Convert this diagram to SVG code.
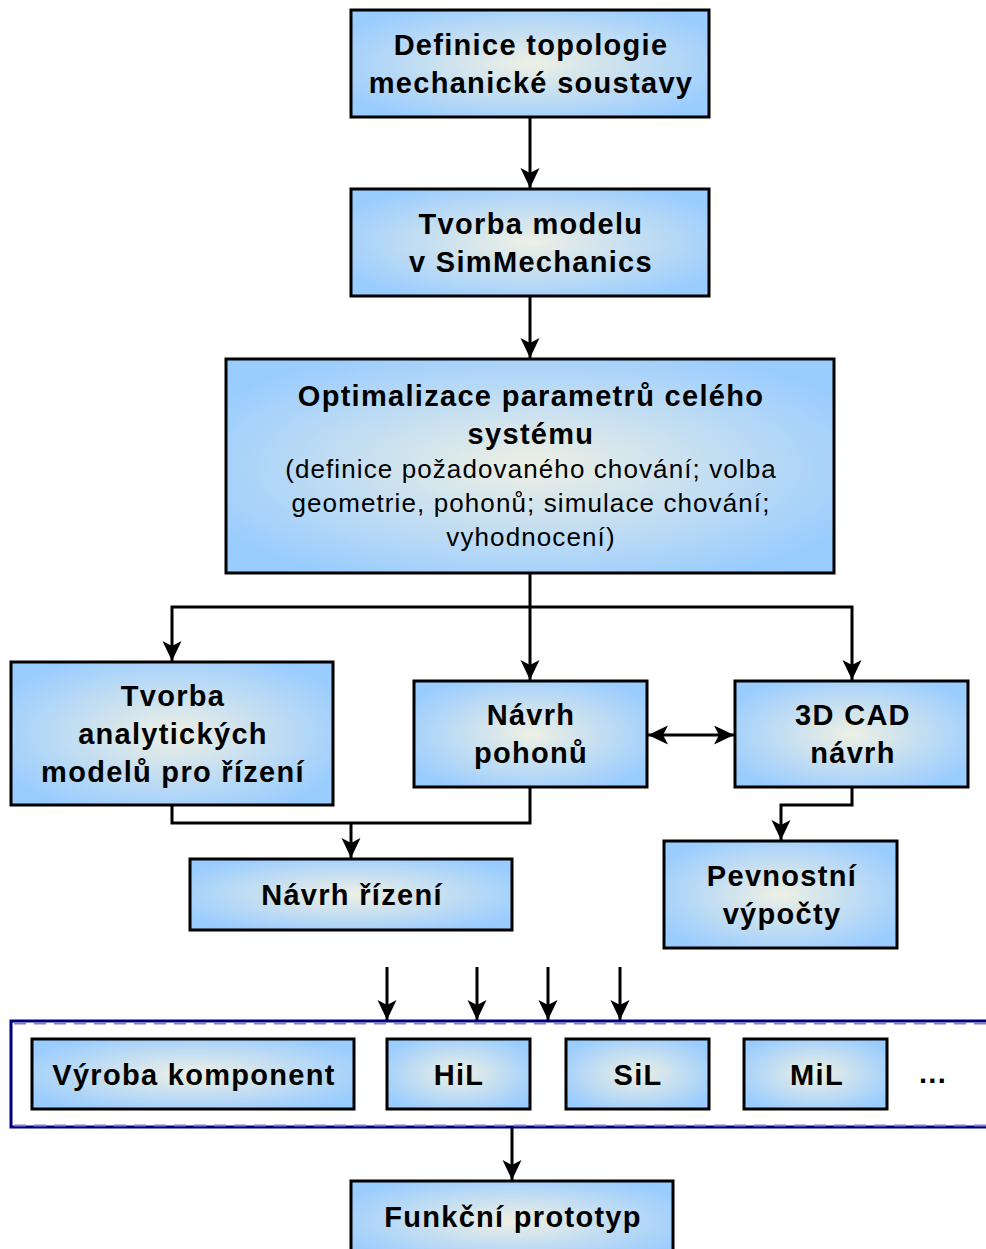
<svg xmlns="http://www.w3.org/2000/svg" width="986" height="1249" viewBox="0 0 986 1249">
<defs>
<radialGradient id="g" cx="0.5" cy="0.5" r="0.6">
<stop offset="0" stop-color="#eef0e4"/>
<stop offset="1" stop-color="#99ccff"/>
</radialGradient>
<marker id="ah" markerUnits="userSpaceOnUse" markerWidth="22" markerHeight="20" refX="20" refY="9.5" orient="auto-start-reverse">
<path d="M0,0 L20,9.5 L0,19 L5,9.5 Z" fill="#000"/>
</marker>
<style>
.box{fill:url(#g);stroke:#000;stroke-width:3}
.t{font-family:"Liberation Sans",Arial,sans-serif;font-weight:bold;font-size:29px;letter-spacing:1.3px;text-anchor:middle;fill:#000}
.s{font-family:"Liberation Sans",Arial,sans-serif;font-size:26px;letter-spacing:1.1px;text-anchor:middle;fill:#000}
.c{fill:none;stroke:#000;stroke-width:3}
</style>
</defs>
<g id="frame">
<path d="M986,1021 H11 V1127 H986" fill="none" stroke="#000080" stroke-width="3"/>
<path d="M986,1023.5 H14 M14,1125.5 H986" fill="none" stroke="#8080d0" stroke-width="2" stroke-dasharray="12,8"/>
</g>
<g id="connectors">
<path class="c" d="M530,117 V188" marker-end="url(#ah)"/>
<path class="c" d="M530,296 V358" marker-end="url(#ah)"/>
<path class="c" d="M530,573 V607"/>
<path class="c" d="M172,661 V607 H852 V680" marker-start="url(#ah)" marker-end="url(#ah)"/>
<path class="c" d="M530,607 V680" marker-end="url(#ah)"/>
<path class="c" d="M648,735 H734" marker-start="url(#ah)" marker-end="url(#ah)"/>
<path class="c" d="M172,805 V823 H530 V787"/>
<path class="c" d="M351,823 V858" marker-end="url(#ah)"/>
<path class="c" d="M852,787 V805 H781 V840" marker-end="url(#ah)"/>
<path class="c" d="M387,967 V1020" marker-end="url(#ah)"/>
<path class="c" d="M477,967 V1020" marker-end="url(#ah)"/>
<path class="c" d="M548,967 V1020" marker-end="url(#ah)"/>
<path class="c" d="M620,967 V1020" marker-end="url(#ah)"/>
<path class="c" d="M512,1128 V1180" marker-end="url(#ah)"/>
</g>
<g id="n1"><rect class="box" x="351" y="10" width="358" height="107"/>
<text class="t" x="531" y="55">Definice topologie</text><text class="t" x="531" y="93">mechanické soustavy</text></g>
<g id="n2"><rect class="box" x="351" y="189" width="358" height="107"/>
<text class="t" x="531" y="234">Tvorba modelu</text><text class="t" x="531" y="272">v SimMechanics</text></g>
<g id="n3"><rect class="box" x="226" y="359" width="608" height="214"/>
<text class="t" x="531" y="406">Optimalizace parametrů celého</text><text class="t" x="531" y="444">systému</text>
<text class="s" x="531" y="478">(definice požadovaného chování; volba</text>
<text class="s" x="531" y="512">geometrie, pohonů; simulace chování;</text>
<text class="s" x="531" y="546">vyhodnocení)</text></g>
<g id="n4"><rect class="box" x="11" y="662" width="322" height="143"/>
<text class="t" x="173" y="706">Tvorba</text><text class="t" x="173" y="744">analytických</text><text class="t" x="173" y="782">modelů pro řízení</text></g>
<g id="n5"><rect class="box" x="414" y="681" width="233" height="106"/>
<text class="t" x="531" y="725">Návrh</text><text class="t" x="531" y="763">pohonů</text></g>
<g id="n6"><rect class="box" x="735" y="681" width="233" height="106"/>
<text class="t" x="853" y="725">3D CAD</text><text class="t" x="853" y="763">návrh</text></g>
<g id="n7"><rect class="box" x="190" y="859" width="322" height="71"/>
<text class="t" x="352" y="905">Návrh řízení</text></g>
<g id="n8"><rect class="box" x="664" y="841" width="233" height="107"/>
<text class="t" x="782" y="886">Pevnostní</text><text class="t" x="782" y="924">výpočty</text></g>
<g id="n9"><rect class="box" x="32" y="1039" width="322" height="70"/>
<text class="t" x="194" y="1085">Výroba komponent</text></g>
<g id="n10"><rect class="box" x="387" y="1039" width="143" height="70"/>
<text class="t" x="459" y="1085">HiL</text></g>
<g id="n11"><rect class="box" x="566" y="1039" width="143" height="70"/>
<text class="t" x="638" y="1085">SiL</text></g>
<g id="n12"><rect class="box" x="744" y="1039" width="143" height="70"/>
<text class="t" x="817" y="1085">MiL</text></g>
<g id="n13"><text class="t" x="933" y="1083">...</text></g>
<g id="n14"><rect class="box" x="351" y="1181" width="322" height="80"/>
<text class="t" x="513" y="1227">Funkční prototyp</text></g>
</svg>
